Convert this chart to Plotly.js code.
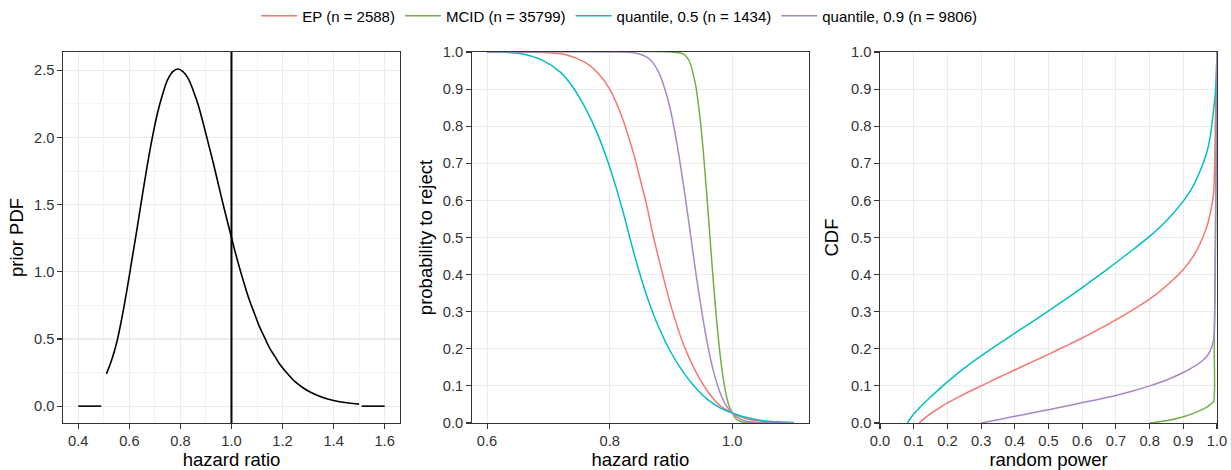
<!DOCTYPE html>
<html>
<head>
<meta charset="utf-8">
<script src="https://cdn.plot.ly/plotly-3.0.1.min.js"></script>
<style>html,body{margin:0;padding:0;background:#fff;}#chart{width:1231px;height:470px;}</style>
</head>
<body>
<div id="chart"></div>
<script>
// ---------- Panel 1: prior PDF ----------
const priorX = [0.51,0.53,0.55,0.57,0.59,0.61,0.63,0.65,0.67,0.69,0.71,0.73,0.75,0.77,0.79,0.81,0.83,0.85,0.87,0.89,0.91,0.93,0.95,0.97,0.99,1.01,1.03,1.05,1.07,1.09,1.11,1.13,1.15,1.17,1.19,1.22,1.25,1.28,1.31,1.34,1.37,1.40,1.43,1.46,1.50];
const priorY = [0.24,0.34,0.47,0.65,0.86,1.09,1.32,1.56,1.79,2.00,2.18,2.32,2.43,2.49,2.51,2.49,2.44,2.35,2.24,2.10,1.95,1.80,1.64,1.48,1.33,1.18,1.04,0.91,0.79,0.69,0.59,0.51,0.43,0.37,0.31,0.24,0.18,0.137,0.103,0.077,0.057,0.042,0.031,0.023,0.015];
const priorLowX = [0.40, 0.49];
const priorLowY = [0, 0];
const priorHighX = [1.51, 1.60];
const priorHighY = [0, 0];
const nullHR = 1.0;

// ---------- Panel 2: probability to reject ----------
const powEPx = [0.60,0.66,0.70,0.73,0.76,0.78,0.80,0.82,0.84,0.85,0.86,0.87,0.88,0.89,0.90,0.92,0.94,0.96,0.98,1.00,1.02,1.04,1.06,1.08,1.10];
const powEPy = [1.000,1.000,0.998,0.992,0.972,0.945,0.900,0.825,0.720,0.655,0.590,0.512,0.443,0.377,0.315,0.213,0.140,0.085,0.047,0.027,0.013,0.006,0.003,0.001,0.0005];
const powMCIDx = [0.60,0.90,0.92,0.93,0.94,0.945,0.95,0.955,0.96,0.965,0.97,0.975,0.98,0.985,0.99,0.995,1.00,1.005,1.01,1.02,1.04,1.10];
const powMCIDy = [1.000,1.000,0.995,0.975,0.912,0.855,0.780,0.686,0.580,0.469,0.362,0.266,0.186,0.122,0.076,0.045,0.027,0.013,0.0065,0.0013,0.0001,0.0];
const powQ50x = [0.60,0.63,0.66,0.69,0.72,0.74,0.76,0.78,0.80,0.82,0.84,0.86,0.88,0.90,0.92,0.94,0.96,0.98,1.00,1.02,1.04,1.06,1.08,1.10];
const powQ50y = [1.000,0.999,0.994,0.978,0.945,0.905,0.850,0.780,0.690,0.580,0.455,0.345,0.258,0.190,0.137,0.095,0.063,0.041,0.027,0.016,0.009,0.005,0.003,0.0015];
const powQ90x = [0.60,0.80,0.84,0.86,0.87,0.88,0.89,0.90,0.91,0.92,0.93,0.94,0.95,0.96,0.97,0.98,0.99,1.00,1.01,1.02,1.04,1.07,1.10];
const powQ90y = [1.000,1.000,0.998,0.987,0.972,0.945,0.900,0.837,0.750,0.645,0.530,0.410,0.302,0.208,0.135,0.082,0.047,0.027,0.013,0.006,0.0015,0.0002,0.0];

// ---------- Panel 3: CDF of random power ----------
const cdfEPx = [0.116,0.13,0.15,0.175,0.20,0.25,0.30,0.35,0.40,0.45,0.50,0.55,0.60,0.65,0.70,0.75,0.80,0.85,0.90,0.93,0.95,0.97,0.98,0.99,0.993,0.996,1.0];
const cdfEPy = [0.000,0.011,0.025,0.040,0.054,0.078,0.100,0.122,0.143,0.164,0.185,0.207,0.229,0.253,0.278,0.305,0.334,0.370,0.414,0.450,0.484,0.530,0.565,0.620,0.700,0.850,1.000];
const cdfMCIDx = [0.800,0.85,0.90,0.93,0.95,0.97,0.98,0.99,0.992,1.0];
const cdfMCIDy = [0.000,0.006,0.017,0.026,0.034,0.043,0.050,0.058,0.200,1.000];
const cdfQ50x = [0.081,0.09,0.10,0.12,0.15,0.20,0.25,0.30,0.35,0.40,0.45,0.50,0.55,0.60,0.65,0.70,0.75,0.80,0.85,0.90,0.93,0.95,0.97,0.98,0.99,0.995,0.998,1.00];
const cdfQ50y = [0.000,0.012,0.024,0.044,0.070,0.111,0.148,0.181,0.212,0.242,0.272,0.302,0.333,0.365,0.398,0.432,0.467,0.503,0.545,0.598,0.640,0.680,0.730,0.772,0.845,0.890,0.940,1.000];
const cdfQ90x = [0.300,0.35,0.40,0.45,0.50,0.55,0.60,0.65,0.70,0.75,0.80,0.85,0.90,0.93,0.95,0.97,0.98,0.99,0.995,1.0];
const cdfQ90y = [0.000,0.009,0.018,0.027,0.036,0.045,0.055,0.064,0.074,0.086,0.100,0.116,0.136,0.151,0.163,0.180,0.195,0.225,0.400,1.000];

const seriesNames = ["EP (n = 2588)", "MCID (n = 35799)", "quantile, 0.5 (n = 1434)", "quantile, 0.9 (n = 9806)"];
const seriesColors = ["#F8766D", "#72B043", "#00BFC4", "#A886CC"];

const FONT = "Liberation Sans, Arial, Helvetica, sans-serif";
const traces = [];
// panel 1
traces.push({x: priorX, y: priorY, xaxis: 'x', yaxis: 'y', mode: 'lines', line: {color: '#000', width: 1.6, shape: 'spline', smoothing: 1}, showlegend: false, hoverinfo: 'skip'});
traces.push({x: priorLowX, y: priorLowY, xaxis: 'x', yaxis: 'y', mode: 'lines', line: {color: '#000', width: 1.6}, showlegend: false, hoverinfo: 'skip'});
traces.push({x: priorHighX, y: priorHighY, xaxis: 'x', yaxis: 'y', mode: 'lines', line: {color: '#000', width: 1.6}, showlegend: false, hoverinfo: 'skip'});

const powX = [powEPx, powMCIDx, powQ50x, powQ90x];
const powY = [powEPy, powMCIDy, powQ50y, powQ90y];
const cdfX = [cdfEPx, cdfMCIDx, cdfQ50x, cdfQ90x];
const cdfY = [cdfEPy, cdfMCIDy, cdfQ50y, cdfQ90y];
for (let i = 0; i < 4; i++) {
  traces.push({x: powX[i], y: powY[i], xaxis: 'x2', yaxis: 'y2', mode: 'lines', name: seriesNames[i], legendgroup: 'g' + i,
    line: {color: seriesColors[i], width: 1.5, shape: 'spline', smoothing: 0.8}, showlegend: true});
}
for (let i = 0; i < 4; i++) {
  traces.push({x: cdfX[i], y: cdfY[i], xaxis: 'x3', yaxis: 'y3', mode: 'lines', name: seriesNames[i], legendgroup: 'g' + i,
    line: {color: seriesColors[i], width: 1.5, shape: 'spline', smoothing: 0.6}, showlegend: false});
}

const base = {
  showline: true, mirror: true, linecolor: '#333333', linewidth: 1.1,
  ticks: 'outside', ticklen: 4.5, tickwidth: 1.1, tickcolor: '#333333',
  showgrid: true, gridcolor: '#EBEBEB', gridwidth: 1.1, zeroline: false,
  tickfont: {family: FONT, size: 14.7, color: '#333333'},
  tickformat: '.1f', automargin: false, fixedrange: true
};
function ax(extra) { return Object.assign({}, base, extra); }
const tfont = {family: FONT, size: 18.5, color: '#000'};

const layout = {
  width: 1231, height: 470,
  margin: {l: 63, r: 14, t: 52, b: 47, autoexpand: false},
  paper_bgcolor: '#fff', plot_bgcolor: '#fff',
  font: {family: FONT},
  showlegend: true,
  legend: {orientation: 'h', x: 0.482, xanchor: 'center', y: 1.097, yanchor: 'middle', itemwidth: 36,
           font: {family: FONT, size: 15, color: '#000'}, bgcolor: 'rgba(0,0,0,0)', traceorder: 'normal'},
  xaxis: ax({domain: [0, 0.2920], anchor: 'y', range: [0.34, 1.66], tick0: 0.4, dtick: 0.2,
             minor: {tick0: 0.3, dtick: 0.2, showgrid: true, gridcolor: '#EBEBEB', gridwidth: 0.6, ticks: ''},
             title: {text: 'hazard ratio', font: tfont, standoff: 2}}),
  yaxis: ax({domain: [0, 1], anchor: 'x', range: [-0.1255, 2.636], tick0: 0, dtick: 0.5,
             minor: {tick0: 0.25, dtick: 0.5, showgrid: true, gridcolor: '#EBEBEB', gridwidth: 0.6, ticks: ''},
             title: {text: 'prior PDF', font: tfont, standoff: 5}}),
  xaxis2: ax({domain: [0.3542, 0.6464], anchor: 'y2', range: [0.575, 1.125], tick0: 0.6, dtick: 0.2,
             title: {text: 'hazard ratio', font: tfont, standoff: 2}}),
  yaxis2: ax({domain: [0, 1], anchor: 'x2', range: [0, 1], tick0: 0, dtick: 0.1,
             title: {text: 'probability to reject', font: tfont, standoff: 5}}),
  xaxis3: ax({domain: [0.7080, 1], anchor: 'y3', range: [0, 1], tick0: 0, dtick: 0.1,
             title: {text: 'random power', font: tfont, standoff: 2}}),
  yaxis3: ax({domain: [0, 1], anchor: 'x3', range: [0, 1], tick0: 0, dtick: 0.1,
             title: {text: 'CDF', font: tfont, standoff: 7}}),
  shapes: [{type: 'line', xref: 'x', yref: 'y domain', x0: nullHR, x1: nullHR, y0: 0, y1: 1,
            line: {color: '#000', width: 2}}]
};

Plotly.newPlot('chart', traces, layout, {staticPlot: true, displayModeBar: false});
</script>
</body>
</html>
